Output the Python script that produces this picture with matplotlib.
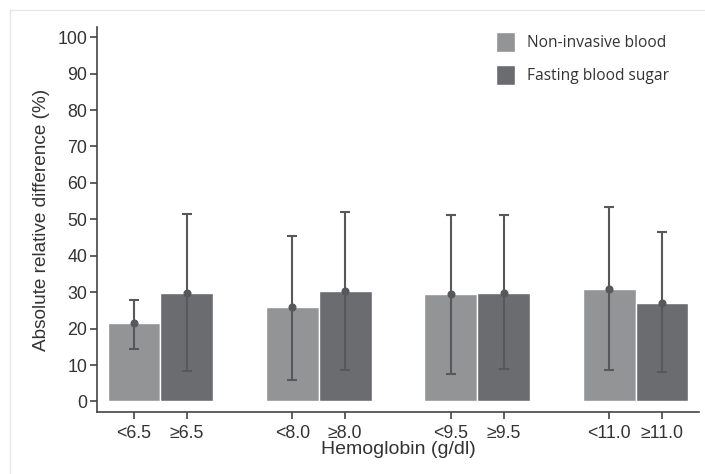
import matplotlib
matplotlib.use("Agg")
import matplotlib.pyplot as plt
from matplotlib.patches import Patch
from matplotlib.lines import Line2D
import numpy as np

# Data
tick_labels = ["<6.5", "\u22656.5", "<8.0", "\u22658.0", "<9.5", "\u22659.5", "<11.0", "\u226511.0"]
series = ["Non-invasive blood", "Fasting blood sugar"]
means = [21.4, 29.8, 25.8, 30.2, 29.4, 29.9, 30.9, 27.1]
err_low = [14.5, 8.3, 6.0, 8.6, 7.5, 8.8, 8.7, 8.0]
err_high = [27.9, 51.5, 45.5, 51.9, 51.2, 51.2, 53.5, 46.4]

light = "#939496"
dark = "#6b6c70"
ecol = "#58585c"
tcol = "#333333"

fig = plt.figure(figsize=(7.05, 4.74), dpi=100)
ax = fig.add_axes([97/705, (474-412)/474, (699-97)/705, (412-27)/474])

n = len(means)
pos = np.array([(i // 2) * 3 + (i % 2) for i in range(n)], dtype=float)
colors = [light if i % 2 == 0 else dark for i in range(n)]

ax.bar(pos, means, width=1.0, color=colors, edgecolor="white", linewidth=1.0, zorder=2)
m = np.array(means)
yerr = np.vstack([m - np.array(err_low), np.array(err_high) - m])
ax.errorbar(pos, means, yerr=yerr, fmt="o", color=ecol, ecolor=ecol, markersize=4.8,
            elinewidth=1.5, capsize=3.6, capthick=1.5, zorder=3)

ax.set_xlim(-0.7, 10.7)
ax.set_ylim(-2.9, 102.8)
ax.set_yticks(np.arange(0, 101, 10))
ax.set_xticks(pos)
ax.set_xticklabels(tick_labels)

for s in ["top", "right"]:
    ax.spines[s].set_visible(False)
for s in ["left", "bottom"]:
    ax.spines[s].set_color("#444444")
    ax.spines[s].set_linewidth(1.2)
ax.tick_params(axis="both", colors="#444444", labelcolor=tcol, labelsize=12.8,
               length=5, width=1.2)
ax.tick_params(axis="y", pad=2)
ax.tick_params(axis="x", pad=4)
for lab in ax.get_xticklabels() + ax.get_yticklabels():
    lab.set_family(["Liberation Sans", "DejaVu Sans"])

ax.set_ylabel("Absolute relative difference (%)", fontsize=13.7, color=tcol,
              family=["Liberation Sans", "DejaVu Sans"], labelpad=5)
ax.set_xlabel("Hemoglobin (g/dl)", fontsize=14, color=tcol,
              family=["Liberation Sans", "DejaVu Sans"], labelpad=0)

handles = [Patch(facecolor=light, edgecolor="white"), Patch(facecolor=dark, edgecolor="white")]
leg = fig.legend(handles, series, loc="upper left",
                 bbox_to_anchor=(496/705, 1 - 32/474), bbox_transform=fig.transFigure,
                 frameon=False, prop={"family": "Open Sans", "size": 11.2},
                 borderpad=0, borderaxespad=0,
                 handlelength=1.25, handleheight=1.6, handletextpad=0.75, labelspacing=0.85)
for t in leg.get_texts():
    t.set_color(tcol)

# light outer frame
fig.add_artist(Line2D([10/705, 1.0], [1 - 10/474, 1 - 10/474], transform=fig.transFigure,
                      color="#e6e6e6", linewidth=1.0))
fig.add_artist(Line2D([10/705, 10/705], [0, 1 - 10/474], transform=fig.transFigure,
                      color="#e6e6e6", linewidth=1.0))

fig.savefig("out.png", dpi=100)
